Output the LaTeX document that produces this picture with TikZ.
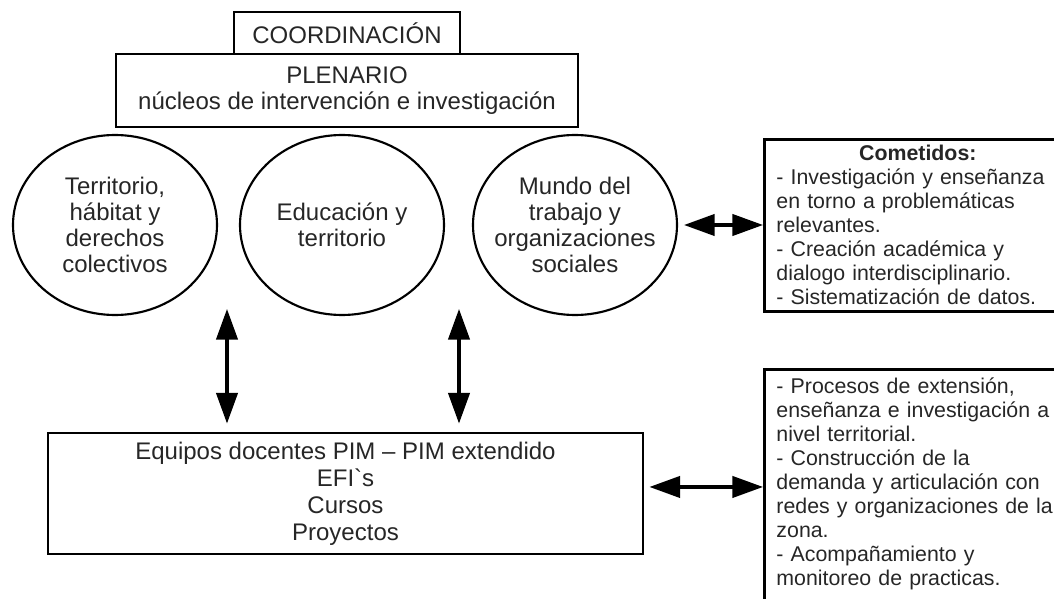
\documentclass[tikz,border=0pt]{standalone}
\usepackage{fontspec}
\setmainfont{Liberation Sans}
\usetikzlibrary{arrows.meta,shapes.geometric}

\begin{document}
\begin{tikzpicture}[x=0.75pt,y=-0.75pt,line join=miter,>={Triangle[length=23pt,width=16pt]}]
    \tikzset{caja/.style={draw,line width=2.2pt,inner sep=0pt,align=center,text=black!85,font=\fontsize{18}{19}\selectfont},
             nucleo/.style={ellipse,draw,line width=1.6pt,minimum width=153pt,minimum height=135pt},
             rotulo/.style={align=center,text=black!85,font=\fontsize{18}{19.5}\selectfont},
             lista/.style={draw,line width=2.2pt,anchor=north west,align=left,text width=212pt,inner xsep=9pt,inner ysep=4.5pt,text=black!85,font=\fontsize{16}{18}\selectfont},
             flecha/.style={<->,line width=2.4pt}}
    \useasboundingbox (0,0) rectangle (1054,599);
    % cabecera
    \node[caja,minimum width=169.5pt,minimum height=31.5pt] (coord) at (347,33) {COORDINACIÓN};
    \node[caja,minimum width=346.5pt,minimum height=54.75pt] (plen) at (347,90.5) {PLENARIO\\núcleos de intervención e investigación};
    % nucleos
    \node[nucleo] (terr) at (115,225) {};
    \node[rotulo] at (terr) {Territorio,\\hábitat y\\derechos\\colectivos};
    \node[nucleo] (educ) at (342,225) {};
    \node[rotulo] at (educ) {Educación y\\territorio};
    \node[nucleo] (mundo) at (575,225) {};
    \node[rotulo] at (mundo) {Mundo del\\trabajo y\\organizaciones\\sociales};
    % equipos
    \node[caja,minimum width=446.25pt,minimum height=90.75pt,font=\fontsize{18}{20.2}\selectfont] (equip) at (345.5,493.5) {Equipos docentes PIM -- PIM extendido\\EFI\textasciigrave s\\Cursos\\Proyectos};
    % cometidos
    \node[lista] (comet) at (763,138) {\hfill\textbf{Cometidos:}\hfill\null\\- Investigación y enseñanza\\en torno a problemáticas\\relevantes.\\- Creación académica y\\dialogo interdisciplinario.\\- Sistematización de datos.};
    \node[lista,inner ysep=6pt] (proc) at (763,368) {- Procesos de extensión,\\enseñanza e investigación a\\nivel territorial.\\- Construcción de la\\demanda y articulación con\\redes y organizaciones de la\\zona.\\- Acompañamiento y\\monitoreo de practicas.\\\mbox{}};
    % flechas
    \coordinate (v1) at (227,309);
    \coordinate (v2) at (459,309);
    \draw[flecha,shorten >=6pt] (v1) -- (v1 |- equip.north);
    \draw[flecha,shorten >=6pt] (v2) -- (v2 |- equip.north);
    \draw[flecha,shorten <=4.5pt] (mundo.east) -- (mundo.east -| comet.west);
    \draw[flecha,shorten <=3.75pt] ([yshift=4.9pt]equip.east) -- ([yshift=4.9pt]equip.east -| proc.west);
\end{tikzpicture}
\end{document}
